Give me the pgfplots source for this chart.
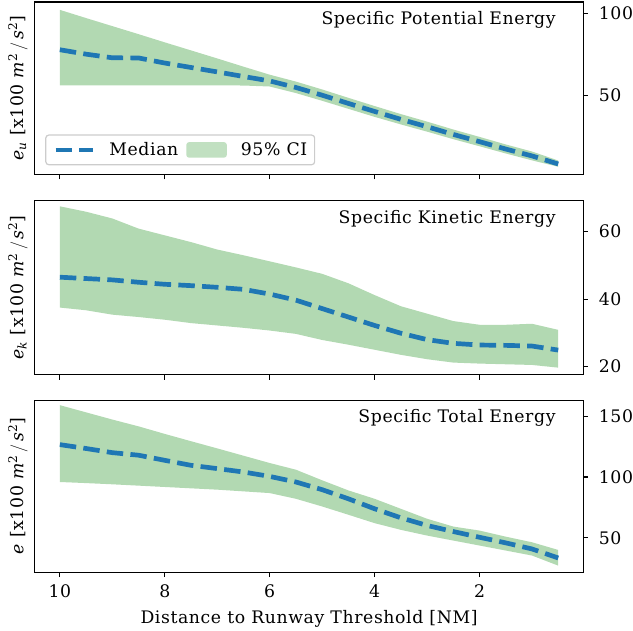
\documentclass[border=0pt]{standalone}
\usepackage{fontspec}
\setmainfont{DejaVu Serif}[LetterSpace=3.5]
\usepackage{amsmath}
\usepackage{pgfplots}
\pgfplotsset{compat=1.18}
\usepackage{pgfplotstable}
\usepgfplotslibrary{fillbetween}

\definecolor{cimed}{HTML}{1F77B4}
\definecolor{cifill}{RGB}{178,217,178}
\definecolor{legframe}{RGB}{204,204,204}
\newcommand{\fs}{\fontsize{17.3pt}{20pt}\selectfont}
\newcommand{\unitlab}{$\textit{m}^{\text{2}}\mkern3mu/\mkern3mu\textit{s}^{\text{2}}$}

\pgfplotstableread{
x    med    lo    hi
10   77.7   56.0  102.0
9.5  75.0   56.0  97.0
9    72.8   56.0  92.1
8.5  72.7   56.0  87.2
8    69.6   56.0  82.2
7.5  66.9   56.0  77.3
7    64.2   56.0  72.4
6.5  61.4   55.9  67.4
6    58.7   55.3  62.5
5.5  54.7   51.3  58.3
5    50.0   46.6  53.5
4.5  45.0   41.7  48.4
4    40.1   36.8  43.4
3.5  35.3   32.2  38.5
3    30.8   27.8  33.9
2.5  26.1   23.2  29.1
2    21.7   18.9  24.6
1.5  17.2   14.5  20.0
1    13.0   10.3  15.7
0.5  8.1    6.4   10.2
}\tA

\pgfplotstableread{
x    med    lo    hi
10   46.5   37.5  67.5
9.5  46.1   36.7  65.9
9    45.7   35.4  63.9
8.5  45.0   34.7  60.9
8    44.4   33.9  58.9
7.5  44.0   32.9  56.9
7    43.5   32.2  54.7
6.5  42.9   31.5  53.0
6    41.5   30.7  51.2
5.5  39.7   29.7  49.4
5    37.2   27.9  47.5
4.5  34.7   26.5  44.7
4    32.2   25.0  41.2
3.5  29.9   23.5  37.9
3    28.0   22.2  35.7
2.5  26.9   21.2  33.5
2    26.4   20.9  32.4
1.5  26.3   20.7  32.4
1    26.1   20.5  32.7
0.5  24.9   19.7  30.9
}\tB

\pgfplotstableread{
x    med    lo    hi
10   126.6  95.9  159.0
9.5  123.4  95.0  153.1
9    120.0  94.0  147.2
8.5  117.9  92.9  141.6
8    113.7  91.8  135.4
7.5  109.6  90.7  129.4
7    106.9  89.6  123.5
6.5  104.1  88.2  117.5
6    100.5  86.8  111.5
5.5  95.9   82.1  106.0
5    89.6   75.8  97.3
4.5  82.1   69.0  89.0
4    73.9   62.1  82.1
3.5  66.5   56.6  73.9
3    60.2   51.9  65.7
2.5  55.2   47.8  59.3
2    50.5   43.7  56.0
1.5  45.9   39.6  51.0
1    40.9   35.5  46.4
0.5  33.5   27.2  40.1
}\tC

\pgfplotsset{
  panel/.style={
    scale only axis, width=549.3pt,
    anchor=south west,
    x dir=reverse, xmin=0.025, xmax=10.475,
    xtick={2,4,6,8,10},
    tick align=outside, xtick pos=left, ytick pos=right,
    yticklabel pos=right,
    major tick length=4.86pt,
    every tick/.style={black, line width=1.1pt},
    axis line style={line width=1.1pt, black},
    tick label style={font=\fs},
    /pgf/number format/assume math mode=true,
    yticklabel style={inner sep=0pt, anchor=west, xshift=10.7pt},
    xticklabel style={inner sep=0pt, anchor=north, yshift=-7.4pt},
    every axis y label/.style={at={(axis description cs:-0.0209,0.5)}, rotate=90, anchor=base, font=\fs},
    every axis x label/.style={at={(axis description cs:0.5,-0.2986)}, anchor=base, font=\fs},
    legend style={font=\fs},
  },
  med/.style={cimed, line width=4.7pt, dash pattern=on 16.5pt off 7.3pt},
  medleg/.style={med, legend image code/.code={\draw[##1] (0pt,0pt) -- (37.5pt,0pt);}},
  cileg/.style={fill=cifill, draw=none, legend image code/.code={\fill[##1] (0pt,-7.85pt) rectangle (40.7pt,7.85pt);}},
}

\begin{document}
\begin{tikzpicture}
\path (0,0) rectangle (633pt,632pt);

% Panel 1
\begin{axis}[panel, at={(35pt,457pt)}, height=173pt,
  ymin=1.6, ymax=106.8, ytick={50,100}, xticklabels={},
  ylabel={$\textit{e}_{\textit{u}}$ [x100 \unitlab]},
  legend columns=2,
  legend style={at={(axis description cs:0.01875,0.054)}, anchor=south west,
    draw=legframe, line width=1.2pt, rounded corners=3pt, fill=white, fill opacity=0.8, text opacity=1,
    inner xsep=7.5pt, inner ysep=7pt,
    nodes={inner sep=0pt},
    /tikz/every odd column/.append style={column sep=14pt},
    /tikz/every even column/.append style={column sep=8pt}},
]
\addplot[name path=hi, draw=none, forget plot] table[x=x,y=hi]{\tA};
\addplot[name path=lo, draw=none, forget plot] table[x=x,y=lo]{\tA};
\addplot[cifill, draw=none, forget plot] fill between[of=hi and lo];
\addplot[med, forget plot] table[x=x,y=med]{\tA};
\addlegendimage{medleg}
\addlegendentry{Median}
\addlegendimage{cileg}
\addlegendentry{95\% CI}
\node[anchor=north east, font=\fs, inner sep=0pt] at (axis description cs:0.95,0.945) {Specific Potential Energy};
\end{axis}

% Panel 2
\begin{axis}[panel, at={(35pt,256.5pt)}, height=175pt,
  ymin=17.6, ymax=69.35, ytick={20,40,60}, xticklabels={},
  ylabel={$\textit{e}_{\textit{k}}$ [x100 \unitlab]},
]
\addplot[name path=hi, draw=none] table[x=x,y=hi]{\tB};
\addplot[name path=lo, draw=none] table[x=x,y=lo]{\tB};
\addplot[cifill, draw=none] fill between[of=hi and lo];
\addplot[med] table[x=x,y=med]{\tB};
\node[anchor=north east, font=\fs, inner sep=0pt] at (axis description cs:0.95,0.945) {Specific Kinetic Energy};
\end{axis}

% Panel 3
\begin{axis}[panel, at={(35pt,58.5pt)}, height=172.5pt,
  ymin=21.7, ymax=163.1, ytick={50,100,150},
  ylabel={\textit{e} [x100 \unitlab]},
  xlabel={Distance to Runway Threshold [NM]},
]
\addplot[name path=hi, draw=none] table[x=x,y=hi]{\tC};
\addplot[name path=lo, draw=none] table[x=x,y=lo]{\tC};
\addplot[cifill, draw=none] fill between[of=hi and lo];
\addplot[med] table[x=x,y=med]{\tC};
\node[anchor=north east, font=\fs, inner sep=0pt] at (axis description cs:0.95,0.945) {Specific Total Energy};
\end{axis}
\end{tikzpicture}
\end{document}
